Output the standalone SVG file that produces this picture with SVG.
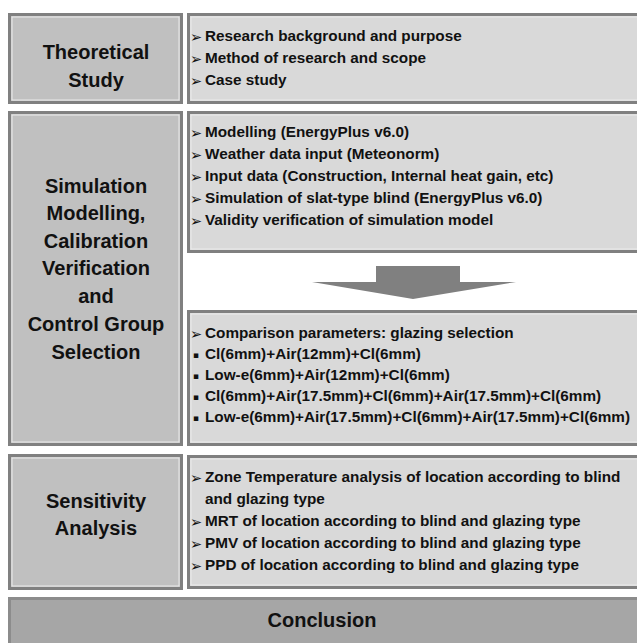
<svg xmlns="http://www.w3.org/2000/svg" width="637" height="643" viewBox="0 0 637 643">
<style>
.bg{fill:#ffffff}
.lbox{fill:#c0c0c0;stroke:#808080;stroke-width:3}
.rbox{fill:#d9d9d9;stroke:#808080;stroke-width:3}
.cbox{fill:#a6a6a6;stroke:#8c8c8c;stroke-width:3}
.hl{fill:none;stroke:#ebebeb;stroke-width:1}
.ttl{font-family:"Liberation Sans",Arial,sans-serif;font-weight:bold;font-size:20px;fill:#111;text-anchor:middle}
.txt{font-family:"Liberation Sans",Arial,sans-serif;font-weight:bold;font-size:15.3px;fill:#111}
.blt{font-family:"DejaVu Sans",sans-serif;font-size:14.5px;fill:#111}
.sq{font-family:"DejaVu Sans",sans-serif;font-size:9px;fill:#111}
.arrow{fill:#808080}
</style>
<rect class="bg" x="0" y="0" width="637" height="643"/>

<g id="theoretical-study">
<rect class="lbox" x="9.5" y="14.5" width="172" height="88"/>
<rect class="hl" x="12" y="17" width="167" height="83"/>
<text class="ttl" x="96" y="59">Theoretical</text>
<text class="ttl" x="96" y="87">Study</text>
</g>

<g id="theoretical-items">
<rect class="rbox" x="188.5" y="14.5" width="452" height="88"/>
<rect class="hl" x="191" y="17" width="448" height="83"/>
<text class="blt" x="190" y="41.5">➢</text><text class="txt" x="205" y="41">Research background and purpose</text>
<text class="blt" x="190" y="63.5">➢</text><text class="txt" x="205" y="63">Method of research and scope</text>
<text class="blt" x="190" y="85.5">➢</text><text class="txt" x="205" y="85">Case study</text>
</g>

<g id="simulation">
<rect class="lbox" x="9.5" y="112.5" width="172" height="332"/>
<rect class="hl" x="12" y="115" width="167" height="327"/>
<text class="ttl" x="96" y="193">Simulation</text>
<text class="ttl" x="96" y="220">Modelling,</text>
<text class="ttl" x="96" y="248">Calibration</text>
<text class="ttl" x="96" y="275">Verification</text>
<text class="ttl" x="96" y="303">and</text>
<text class="ttl" x="96" y="331">Control Group</text>
<text class="ttl" x="96" y="359">Selection</text>
</g>

<g id="modelling-items">
<rect class="rbox" x="188.5" y="112.5" width="452" height="139"/>
<rect class="hl" x="191" y="115" width="448" height="134"/>
<text class="blt" x="190" y="137.5">➢</text><text class="txt" x="205" y="137">Modelling (EnergyPlus v6.0)</text>
<text class="blt" x="190" y="159.5">➢</text><text class="txt" x="205" y="159">Weather data input (Meteonorm)</text>
<text class="blt" x="190" y="181.5">➢</text><text class="txt" x="205" y="181">Input data (Construction, Internal heat gain, etc)</text>
<text class="blt" x="190" y="203.5">➢</text><text class="txt" x="205" y="203">Simulation of slat-type blind (EnergyPlus v6.0)</text>
<text class="blt" x="190" y="225.5">➢</text><text class="txt" x="205" y="225">Validity verification of simulation model</text>
</g>

<g id="glazing-items">
<rect class="rbox" x="188.5" y="311.5" width="452" height="133"/>
<rect class="hl" x="191" y="314" width="448" height="128"/>
<text class="blt" x="190" y="338.5">➢</text><text class="txt" x="205" y="338">Comparison parameters: glazing selection</text>
<text class="sq" x="193" y="358">▪</text><text class="txt" x="205" y="359">Cl(6mm)+Air(12mm)+Cl(6mm)</text>
<text class="sq" x="193" y="379">▪</text><text class="txt" x="205" y="380">Low-e(6mm)+Air(12mm)+Cl(6mm)</text>
<text class="sq" x="193" y="400">▪</text><text class="txt" x="205" y="401">Cl(6mm)+Air(17.5mm)+Cl(6mm)+Air(17.5mm)+Cl(6mm)</text>
<text class="sq" x="193" y="421">▪</text><text class="txt" x="205" y="422">Low-e(6mm)+Air(17.5mm)+Cl(6mm)+Air(17.5mm)+Cl(6mm)</text>
</g>

<g id="sensitivity">
<rect class="lbox" x="9.5" y="455.5" width="172" height="133"/>
<rect class="hl" x="12" y="458" width="167" height="128"/>
<text class="ttl" x="96" y="508">Sensitivity</text>
<text class="ttl" x="96" y="535">Analysis</text>
</g>

<g id="sensitivity-items">
<rect class="rbox" x="188.5" y="456.5" width="452" height="131"/>
<rect class="hl" x="191" y="459" width="448" height="126"/>
<text class="blt" x="190" y="482.5">➢</text><text class="txt" x="205" y="482">Zone Temperature analysis of location according to blind</text>
<text class="txt" x="205" y="504">and glazing type</text>
<text class="blt" x="190" y="526.5">➢</text><text class="txt" x="205" y="526">MRT of location according to blind and glazing type</text>
<text class="blt" x="190" y="548.5">➢</text><text class="txt" x="205" y="548">PMV of location according to blind and glazing type</text>
<text class="blt" x="190" y="570.5">➢</text><text class="txt" x="205" y="570">PPD of location according to blind and glazing type</text>
</g>

<g id="conclusion">
<rect class="cbox" x="9.5" y="598.5" width="631" height="50"/>
<text class="ttl" x="322" y="627">Conclusion</text>
</g>

<g id="connectors">
<polygon class="arrow" points="376,266 460,266 460,282 516,282 413,299 312,282 376,282"/>
</g>
</svg>
